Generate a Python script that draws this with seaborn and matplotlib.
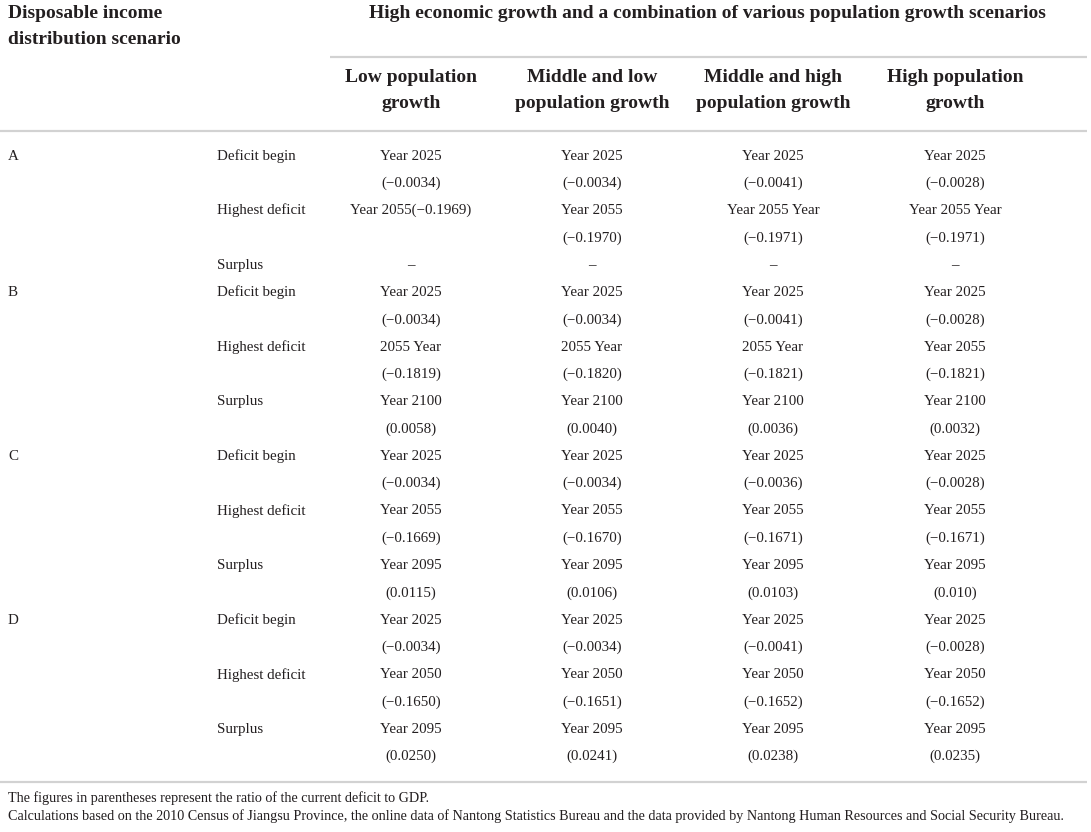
import numpy as np
import pandas as pd
import matplotlib
matplotlib.use("Agg")
import matplotlib.pyplot as plt
import seaborn as sns

# Table values (deficit/surplus year and ratio to GDP)
scenarios = ["A", "B", "C", "D"]
indicators = ["Deficit begin", "Highest deficit", "Surplus"]
col_headers = ["Low population\ngrowth", "Middle and low\npopulation growth",
               "Middle and high\npopulation growth", "High population\ngrowth"]

low_pop = ["Year 2025\n(−0.0034)", "Year 2055(−0.1969)", "–",
           "Year 2025\n(−0.0034)", "2055 Year\n(−0.1819)", "Year 2100\n(0.0058)",
           "Year 2025\n(−0.0034)", "Year 2055\n(−0.1669)", "Year 2095\n(0.0115)",
           "Year 2025\n(−0.0034)", "Year 2050\n(−0.1650)", "Year 2095\n(0.0250)"]
mid_low_pop = ["Year 2025\n(−0.0034)", "Year 2055\n(−0.1970)", "–",
               "Year 2025\n(−0.0034)", "2055 Year\n(−0.1820)", "Year 2100\n(0.0040)",
               "Year 2025\n(−0.0034)", "Year 2055\n(−0.1670)", "Year 2095\n(0.0106)",
               "Year 2025\n(−0.0034)", "Year 2050\n(−0.1651)", "Year 2095\n(0.0241)"]
mid_high_pop = ["Year 2025\n(−0.0041)", "Year 2055 Year\n(−0.1971)", "–",
                "Year 2025\n(−0.0041)", "2055 Year\n(−0.1821)", "Year 2100\n(0.0036)",
                "Year 2025\n(−0.0036)", "Year 2055\n(−0.1671)", "Year 2095\n(0.0103)",
                "Year 2025\n(−0.0041)", "Year 2050\n(−0.1652)", "Year 2095\n(0.0238)"]
high_pop = ["Year 2025\n(−0.0028)", "Year 2055 Year\n(−0.1971)", "–",
            "Year 2025\n(−0.0028)", "Year 2055\n(−0.1821)", "Year 2100\n(0.0032)",
            "Year 2025\n(−0.0028)", "Year 2055\n(−0.1671)", "Year 2095\n(0.010)",
            "Year 2025\n(−0.0028)", "Year 2050\n(−0.1652)", "Year 2095\n(0.0235)"]

notes = ["The figures in parentheses represent the ratio of the current deficit to GDP.",
         "Calculations based on the 2010 Census of Jiangsu Province, the online data of "
         "Nantong Statistics Bureau and the data provided by Nantong Human Resources and "
         "Social Security Bureau."]

df = pd.DataFrame({
    "scenario": np.repeat(scenarios, len(indicators)),
    "indicator": indicators * len(scenarios),
    "c0": low_pop, "c1": mid_low_pop, "c2": mid_high_pop, "c3": high_pop,
})
cols = ["c0", "c1", "c2", "c3"]

sns.set_theme(style="white")
plt.rcParams['font.family'] = ['Liberation Serif', 'DejaVu Serif']

txt = "#231f20"
rule = "#d2d2d2"
col_x = [411, 592, 773, 955]
pitch = 27.3
y0 = 156

fig = plt.figure(figsize=(10.91, 8.32), dpi=100)
ax = fig.add_axes([0, 0, 1, 1])
ax.set_xlim(0, 1091)
ax.set_ylim(832, 0)
ax.axis('off')

# header
hdr = dict(fontsize=14, fontweight='bold', color=txt, va='center')
ax.text(8, 14, "Disposable income", ha='left', **hdr)
ax.text(8, 40, "distribution scenario", ha='left', **hdr)
ax.text(707, 14, "High economic growth and a combination of various population growth scenarios",
        ha='center', **hdr)
ax.plot([330, 1087], [57, 57], color=rule, lw=1.6, solid_capstyle='butt')
for x, h in zip(col_x, col_headers):
    for k, line in enumerate(h.split("\n")):
        ax.text(x, 78 + k * 26, line, ha='center', **hdr)
ax.plot([0, 1087], [131, 131], color=rule, lw=1.6, solid_capstyle='butt')

# body
body = dict(fontsize=10.8, color=txt, va='center')
slot = 0
for _, row in df.iterrows():
    y = y0 + slot * pitch
    if row["indicator"] == indicators[0]:
        ax.text(8, y, row["scenario"], ha='left', **body)
    ax.text(217, y, row["indicator"], ha='left', **body)
    nlines = 1
    for c, x in zip(cols, col_x):
        parts = row[c].split("\n")
        nlines = max(nlines, len(parts))
        for k, line in enumerate(parts):
            ax.text(x, y + k * pitch, line, ha='center', **body)
    slot += nlines

ax.plot([0, 1087], [782, 782], color=rule, lw=1.6, solid_capstyle='butt')
for k, n in enumerate(notes):
    ax.text(8, 798 + k * 18, n, ha='left', fontsize=10.2, color=txt, va='center')

fig.savefig("out.png", dpi=100)
